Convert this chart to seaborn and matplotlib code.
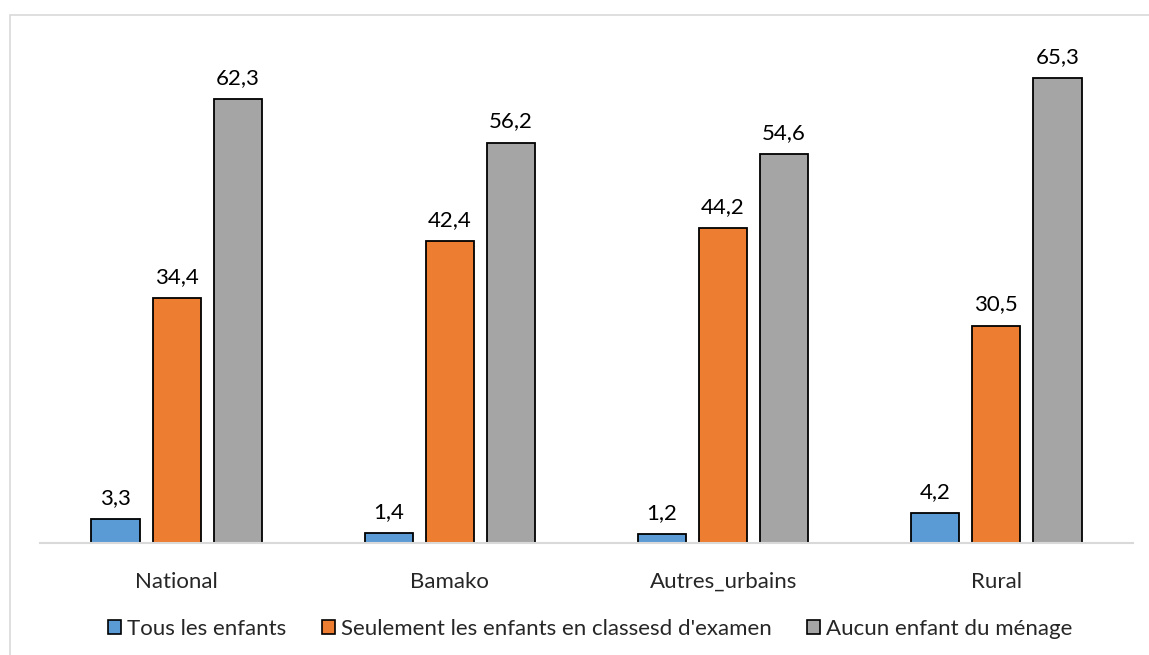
import matplotlib
matplotlib.use("Agg")
import matplotlib.pyplot as plt
import pandas as pd
import seaborn as sns
from matplotlib.patches import Patch, Rectangle

categories = ["National", "Bamako", "Autres_urbains", "Rural"]
series = ["Tous les enfants", "Seulement les enfants en classesd d'examen", "Aucun enfant du ménage"]
tous = [3.3, 1.4, 1.2, 4.2]
seulement = [34.4, 42.4, 44.2, 30.5]
aucun = [62.3, 56.2, 54.6, 65.3]
colors = ["#5B9BD5", "#ED7D31", "#A5A5A5"]

df = pd.DataFrame({
    "cat": categories * 3,
    "serie": [s for s in series for _ in categories],
    "val": tous + seulement + aucun,
})

sns.set_style("white")
plt.rcParams["font.family"] = ["Lato", "DejaVu Sans"]

fig = plt.figure(figsize=(11.49, 6.55), dpi=100)
top = 1 - 15 / 655
# chart frame: only top and left edges fall inside the image
fig.patches.append(Rectangle((10 / 1149, -0.1), 1.2, top + 0.1,
                             transform=fig.transFigure, fill=False,
                             edgecolor="#D9D9D9", linewidth=1.2))
ax = fig.add_axes([40 / 1149, 112 / 655, 1093 / 1149, 513 / 655])

sns.barplot(data=df, x="cat", y="val", hue="serie", order=categories,
            hue_order=series, palette=colors, width=0.67, gap=0.21,
            edgecolor="black", linewidth=1.3, saturation=1, ax=ax, legend=False)

for cont in ax.containers:
    ax.bar_label(cont, labels=[f"{v:.1f}".replace(".", ",") for v in cont.datavalues],
                 padding=8, fontsize=16, color="#000000")

ax.set_ylim(0, 72)
ax.set_xlim(-0.5, 3.5)
ax.set_yticks([])
ax.set_xlabel("")
ax.set_ylabel("")
for side in ["top", "right", "left"]:
    ax.spines[side].set_visible(False)
ax.spines["bottom"].set_color("#D9D9D9")
ax.spines["bottom"].set_linewidth(1.5)
ax.tick_params(axis="x", length=0, pad=21, labelsize=16)

handles = [Patch(facecolor=c, edgecolor="black", linewidth=1.2) for c in colors]
fig.legend(handles, series, loc="center", bbox_to_anchor=(590 / 1149, 1 - 629 / 655),
           ncol=3, frameon=False, fontsize=16, handlelength=0.6, handleheight=0.6,
           handletextpad=0.25, columnspacing=1.6)

fig.savefig("out.png", dpi=100)
